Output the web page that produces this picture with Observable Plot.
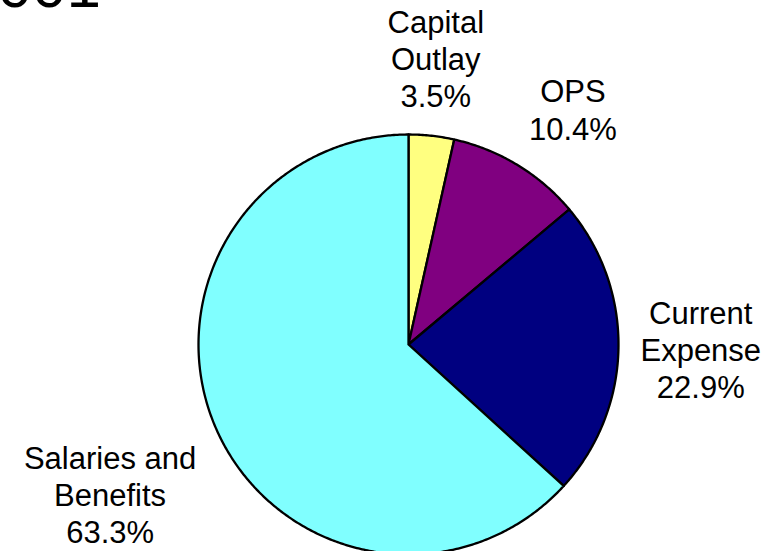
<!DOCTYPE html>
<html><head><meta charset="utf-8">
<script src="https://cdn.jsdelivr.net/npm/d3@7"></script>
<script src="https://cdn.jsdelivr.net/npm/@observablehq/plot@0.6"></script>
<style>
body{margin:0;background:#fff;}
#wrap{position:relative;width:773px;height:551px;overflow:hidden;}
#title{position:absolute;left:-37px;top:-45px;font:62px "Liberation Sans",Arial,sans-serif;line-height:1;white-space:nowrap;color:#000;}
#chart{position:absolute;left:0;top:0;}
</style></head><body>
<div id="wrap"><div id="title"></div><div id="chart"></div></div>
<script>
const titleText = "2001";
const categories = ["Capital\nOutlay", "OPS", "Current\nExpense", "Salaries and\nBenefits"];
const values = [3.5, 10.4, 22.9, 63.3];
const colors = ["#FFFF80", "#800080", "#000080", "#80FFFF"];

document.getElementById("title").textContent = titleText;

const W = 773, H = 551, cx = 408, cy = 344, R = 210;
const FONT = '"Liberation Sans", Arial, sans-serif';
const FS = 31, LH = 1.2, GAP = 22;
const total = d3.sum(values);

const slices = [];
let acc = 0;
values.forEach((v, i) => {
  const a0 = acc / total * 2 * Math.PI;
  acc += v;
  const a1 = acc / total * 2 * Math.PI;
  slices.push({i, a0, a1});
});

const pts = [];
slices.forEach(s => {
  const k = categories[s.i];
  pts.push({k, x: 0, y: 0});
  const n = Math.max(2, Math.ceil((s.a1 - s.a0) / (Math.PI / 360)));
  for (let j = 0; j <= n; j++) {
    const a = s.a0 + (s.a1 - s.a0) * j / n;
    pts.push({k, x: Math.sin(a), y: Math.cos(a)});
  }
  pts.push({k, x: 0, y: 0});
});

const ctx = document.createElement("canvas").getContext("2d");
ctx.font = `${FS}px ${FONT}`;
const clamp01 = v => Math.max(0, Math.min(1, v));
const labels = slices.map(s => {
  const lines = (categories[s.i] + "\n" + values[s.i].toFixed(1) + "%").split("\n");
  const hw = d3.max(lines, l => ctx.measureText(l).width) / 2;
  const hh = lines.length * FS * LH / 2;
  const m = (s.a0 + s.a1) / 2;
  const ux = Math.sin(m), uy = Math.cos(m);
  const f = Math.sign(ux) * clamp01((Math.abs(ux) - 0.1) / 0.25);
  const h = Math.sign(uy) * clamp01((Math.abs(uy) - 0.1) / 0.25);
  const px = ux * (R + GAP) + hw * f;
  const py = uy * (R + GAP) + hh * h;
  return {text: lines.join("\n"), x: px / R, y: py / R};
});

const chart = Plot.plot({
  width: W, height: H,
  marginLeft: cx - R, marginRight: W - cx - R, marginTop: cy - R, marginBottom: 0,
  x: {domain: [-1, 1], axis: null},
  y: {domain: [-(H - cy) / R, 1], axis: null},
  color: {domain: categories, range: colors},
  style: {background: "transparent", overflow: "visible", fontFamily: FONT},
  marks: [
    Plot.line(pts, {x: "x", y: "y", z: "k", fill: "k", stroke: "black", strokeWidth: 2.3, strokeLinejoin: "round"}),
    Plot.text(labels, {x: "x", y: "y", text: "text", fontSize: FS, lineHeight: LH, fill: "black", fontFamily: FONT})
  ]
});
document.getElementById("chart").appendChild(chart);
</script>
</body></html>
